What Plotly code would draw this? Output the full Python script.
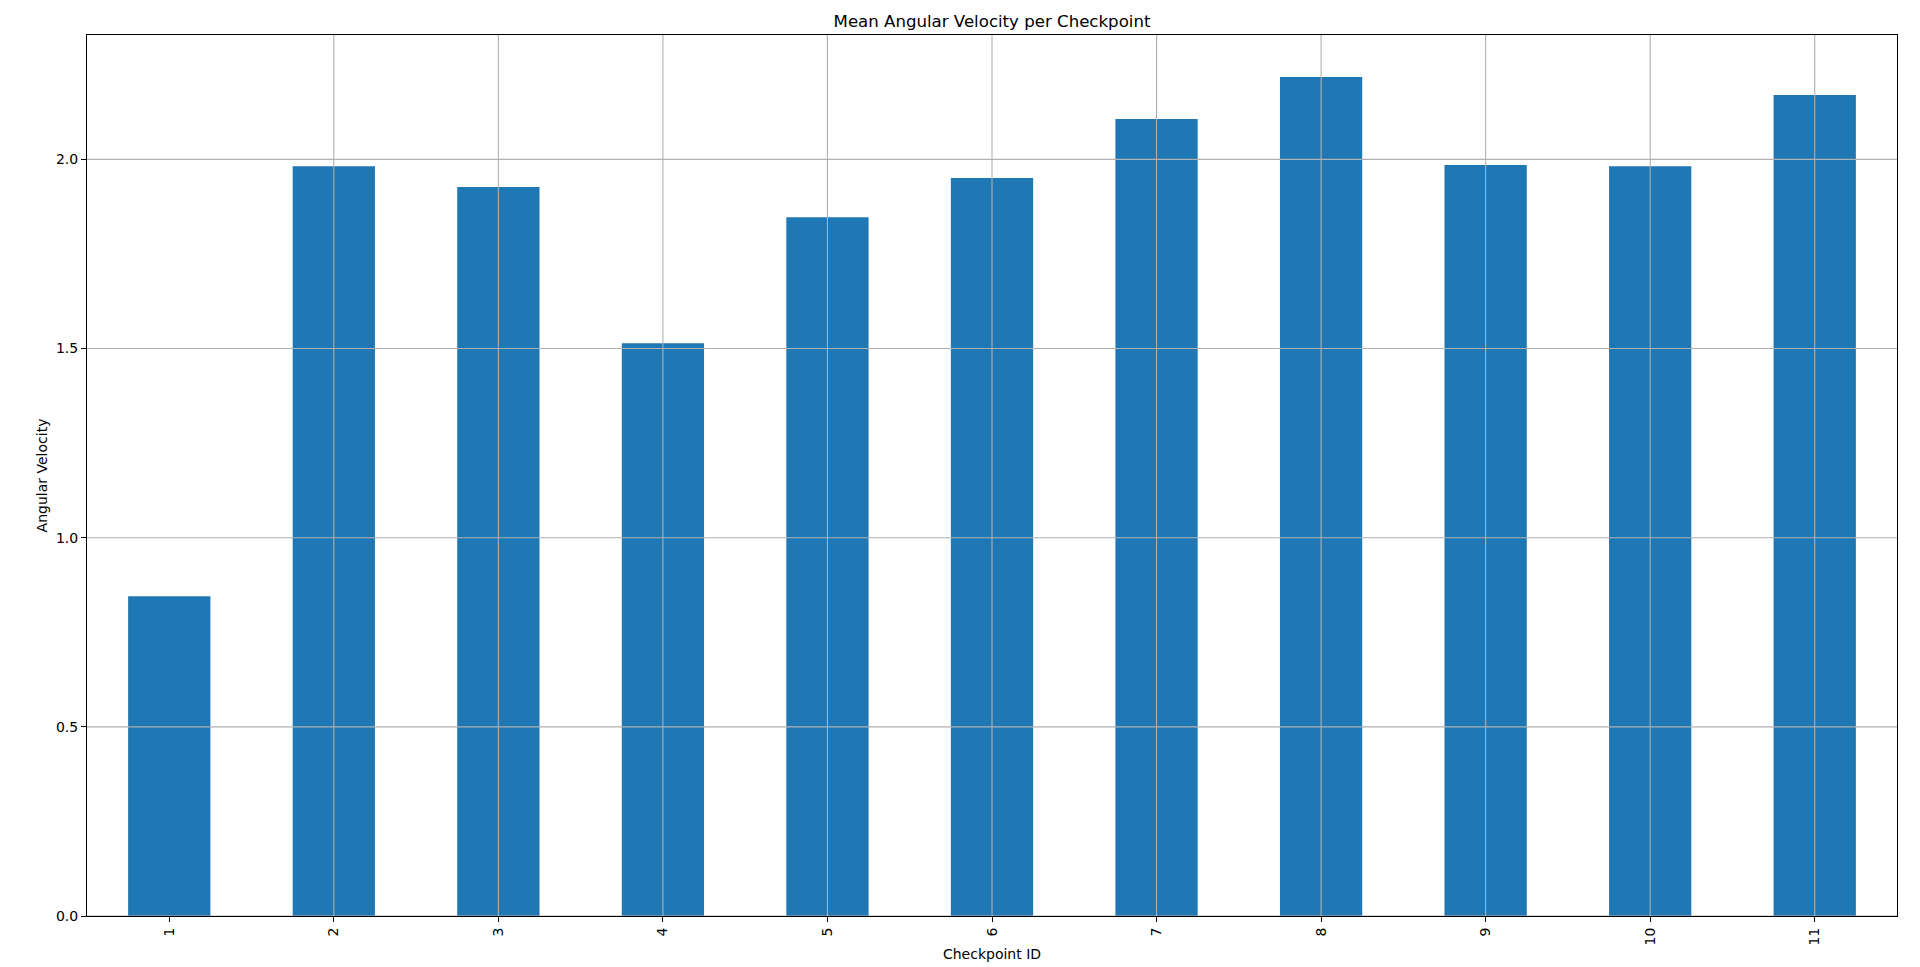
import plotly.graph_objects as go

# データ
checkpoint_ids = ["1", "2", "3", "4", "5", "6", "7", "8", "9", "10", "11"]
mean_angular_velocity = [0.845, 1.982, 1.927, 1.514, 1.847, 1.951,
                         2.107, 2.218, 1.985, 1.982, 2.170]
y_ticks = [0.0, 0.5, 1.0, 1.5, 2.0]

FONT = "DejaVu Sans"
GRID = "#b0b0b0"

fig = go.Figure()

fig.add_trace(go.Bar(
    x=checkpoint_ids,
    y=mean_angular_velocity,
    width=0.5,
    marker=dict(color="#1f77b4", line=dict(width=0)),
    hoverinfo="x+y",
))

# グリッド線（バーの上に描く）
for c in checkpoint_ids:
    fig.add_shape(type="line", xref="x", yref="paper",
                  x0=c, x1=c, y0=0, y1=1,
                  line=dict(color=GRID, width=1.1), layer="above")
for t in y_ticks:
    fig.add_shape(type="line", xref="paper", yref="y",
                  x0=0, x1=1, y0=t, y1=t,
                  line=dict(color=GRID, width=1.1), layer="above")

ymax = max(mean_angular_velocity) * 1.05

# ページの余白(8px)を差し引いたマージン
fig.update_layout(
    width=1920,
    height=967,
    margin=dict(l=79, r=31, t=27, b=59),
    paper_bgcolor="white",
    plot_bgcolor="white",
    font=dict(family=FONT, size=14, color="black"),
    showlegend=False,
    title=dict(
        text="Mean Angular Velocity per Checkpoint",
        font=dict(family=FONT, size=16.6, color="black"),
        x=0.5, xref="paper", xanchor="center",
        y=1 - 13 / 967, yref="container", yanchor="middle",
    ),
    xaxis=dict(
        type="category",
        range=[-0.5, len(checkpoint_ids) - 0.5],
        tickangle=-90,
        ticks="outside", ticklen=5, tickwidth=1.1, tickcolor="black",
        showgrid=False,
        showline=True, linecolor="black", linewidth=1.1, mirror=True,
        tickfont=dict(family=FONT, size=14, color="black"),
        title=dict(text="Checkpoint ID", font=dict(family=FONT, size=14),
                   standoff=4),
        automargin=False,
        layer="above traces",
    ),
    yaxis=dict(
        range=[0, ymax],
        tickvals=y_ticks,
        tickformat=".1f",
        ticks="outside", ticklen=5, tickwidth=1.1, tickcolor="black",
        showgrid=False, zeroline=False,
        showline=True, linecolor="black", linewidth=1.1, mirror=True,
        tickfont=dict(family=FONT, size=14, color="black"),
        title=dict(text="Angular Velocity", font=dict(family=FONT, size=14),
                   standoff=4),
        automargin=False,
        layer="above traces",
    ),
)

fig.write_html("out.html")
